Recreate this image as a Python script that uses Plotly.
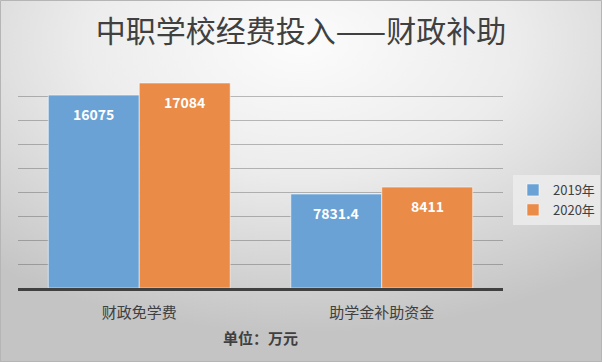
import base64
import plotly.graph_objects as go

categories = ["财政免学费", "助学金补助资金"]
series_names = ["2019年", "2020年"]
values_2019 = [16075, 7831.4]
values_2020 = [17084, 8411]
labels_2019 = ["16075", "7831.4"]
labels_2020 = ["17084", "8411"]

W, H = 602, 362
L, R, T, B = 18, 99, 72, 74
pw, ph = W - L - R, H - T - B
BARGAP = 0.25
FONT = "Noto Sans CJK SC, Noto Sans, sans-serif"

colors = ["#6aa2d6", "#ea8b48"]

fig = go.Figure()
for name, vals, col in [(series_names[0], values_2019, colors[0]),
                        (series_names[1], values_2020, colors[1])]:
    fig.add_trace(go.Bar(
        x=categories, y=vals, name=name,
        marker=dict(color=col, line=dict(color="rgba(255,255,255,0.55)", width=1)),
        hoverinfo="skip",
    ))

# data labels
cat_w = pw / len(categories)
bar_w = cat_w * (1 - BARGAP) / 2
for vals, labs, sgn in [(values_2019, labels_2019, -1), (values_2020, labels_2020, 1)]:
    for c, v, t in zip(categories, vals, labs):
        fig.add_annotation(x=c, y=v, text=f"<b>{t}</b>", showarrow=False,
                           xshift=sgn * bar_w / 2, yshift=-19,
                           font=dict(family=FONT, size=14, color="white"))

svg = f"""<svg xmlns='http://www.w3.org/2000/svg' width='{W}' height='{H}'>
<defs><radialGradient id='g' cx='0.5' cy='0.12' r='0.8'>
<stop offset='0' stop-color='#fcfcfc'/><stop offset='0.45' stop-color='#ececec'/>
<stop offset='1' stop-color='#c4c4c4'/></radialGradient></defs>
<rect width='{W}' height='{H}' fill='url(#g)'/></svg>"""
uri = "data:image/svg+xml;base64," + base64.b64encode(svg.encode()).decode()

fig.add_layout_image(dict(source=uri, xref="paper", yref="paper",
                          x=-L / pw, y=1 + T / ph, sizex=W / pw, sizey=H / ph,
                          xanchor="left", yanchor="top", sizing="stretch",
                          layer="below"))

fig.add_shape(type="rect", xref="paper", yref="paper",
              x0=-L / pw + 0.5 / pw, x1=(W - L - 0.5) / pw,
              y0=-(B - 0.5) / ph, y1=1 + (T - 0.5) / ph,
              line=dict(color="#b5b5b5", width=1), fillcolor="rgba(0,0,0,0)")

fig.update_layout(
    width=W, height=H,
    margin=dict(l=L, r=R, t=T, b=B, autoexpand=False),
    paper_bgcolor="#dcdcdc", plot_bgcolor="rgba(0,0,0,0)",
    barmode="group", bargap=BARGAP, bargroupgap=0,
    title=dict(text="中职学校经费投入——财政补助", x=0.5, xref="container", xanchor="center",
               y=1 - 31 / H, yanchor="middle",
               font=dict(family=FONT, size=30, color="#404040")),
    font=dict(family=FONT, color="#404040"),
    legend=dict(x=(513 - L) / pw, y=(288 - 175) / ph, xanchor="left", yanchor="top",
                bgcolor="rgba(236,236,236,0.85)", font=dict(size=13, color="#404040"),
                itemwidth=30, tracegroupgap=2),
    xaxis=dict(showline=True, linecolor="#404040", linewidth=3,
               ticks="outside", ticklen=9, tickcolor="rgba(0,0,0,0)",
               tickfont=dict(family=FONT, size=15, color="#404040"),
               title=dict(text="<b>单位：万元</b>", standoff=13,
                          font=dict(family=FONT, size=15, color="#404040"))),
    yaxis=dict(range=[0, 18000], dtick=2000, showticklabels=False,
               gridcolor="rgba(70,70,70,0.35)", gridwidth=1, zeroline=False),
)

fig.write_html("out.html", config={"displayModeBar": False},
               post_script="document.body.style.margin='0';")
